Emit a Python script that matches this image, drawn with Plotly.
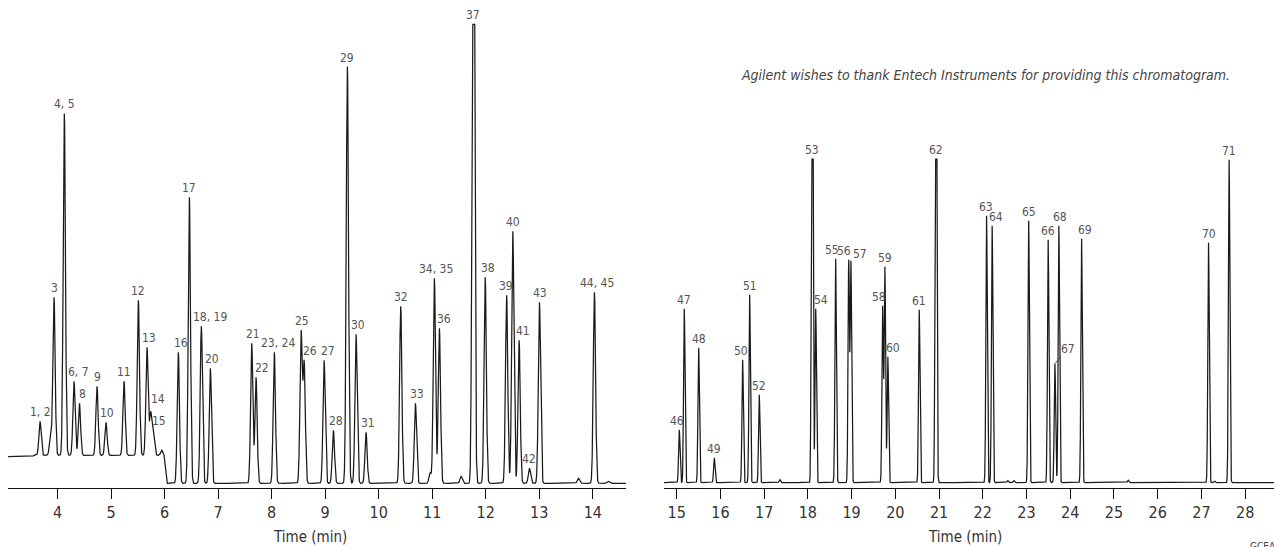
import numpy as np
import plotly.graph_objects as go

# ---------------- data ----------------
# Left panel (3-14.6 min): retention time (min), apex height above local baseline, label
left_times = [3.673, 3.87, 3.935, 4.127, 4.308, 4.41, 4.738, 4.906, 5.243, 5.51, 5.672, 5.74, 5.79, 5.947,
              6.257, 6.463, 6.687, 6.855, 7.628, 7.709, 8.05, 8.55, 8.608, 8.98, 9.154, 9.415, 9.577, 9.764,
              10.412, 10.686, 10.96, 11.04, 11.134, 11.54, 11.77, 11.99, 12.39, 12.505, 12.623, 12.816,
              13.003, 13.73, 14.03, 14.29]
left_heights = [34, 22, 158, 342, 74, 52, 69, 33, 74, 155, 108, 44, 25, 5,
                131, 286, 157, 115, 140, 106, 131, 153, 123, 123, 53, 417, 149, 51,
                177, 80, 11, 205, 155, 7, 950, 206, 188, 252, 143, 15,
                181, 5, 191, 2]
left_labels = ["1, 2", "", "3", "4, 5", "6, 7", "8", "9", "10", "11", "12", "13", "14", "15", "",
               "16", "17", "18, 19", "20", "21", "22", "23, 24", "25", "26", "27", "28", "29", "30", "31",
               "32", "33", "", "34, 35", "36", "", "37", "38", "39", "40", "41", "42",
               "43", "", "44, 45", ""]
# raised baseline of the early part of the run
left_base_t = [3.0, 3.52, 3.57, 5.99, 6.04, 14.7]
left_base_v = [26.6, 26.6, 28.0, 28.0, 0.0, 0.0]
left_clip = 459

# Right panel (15-28.6 min)
right_times = [15.06, 15.174, 15.503, 15.86, 16.509, 16.669, 16.889, 17.36, 18.10, 18.18, 18.635,
               18.935, 18.985, 19.71, 19.762, 19.83, 20.547, 20.93, 22.087, 22.215, 22.57, 22.71,
               23.05, 23.496, 23.65, 23.74, 24.26, 25.325, 27.163, 27.3, 27.634]
right_heights = [53, 174, 135, 25, 123, 188, 88, 3, 950, 174, 224,
                 223, 222, 177, 216, 126, 173, 950, 267, 257, 2, 2,
                 262, 243, 119, 257, 244, 2.5, 240, 1.5, 323]
right_labels = ["46", "47", "48", "49", "50", "51", "52", "", "53", "54", "55",
                "56", "57", "58", "59", "60", "61", "62", "63", "64", "", "",
                "65", "66", "67", "68", "69", "", "70", "", "71"]
right_clip = 323.7

left_ticks = list(range(4, 15))
right_ticks = list(range(15, 29))

# ---------------- build traces ----------------
def chromatogram(times, heights, sigma, t0, t1, base_t=None, base_v=None, clip=None):
    times = np.asarray(times, float)
    heights = np.asarray(heights, float)
    M = np.exp(-((times[:, None] - times[None, :]) ** 2) / (2 * sigma ** 2))
    amps = np.linalg.solve(M, heights)
    amps = np.maximum(amps, 0.3 * heights)
    x = np.arange(t0, t1, 0.0015)
    y = np.zeros_like(x)
    for t, a in zip(times, amps):
        y += a * np.exp(-((x - t) ** 2) / (2 * sigma ** 2))
    if base_t is not None:
        y += np.interp(x, base_t, base_v)
    if clip is not None:
        y = np.minimum(y, clip)
    return x, y

lx, ly = chromatogram(left_times, left_heights, 0.021, 3.075, 14.62, left_base_t, left_base_v, left_clip)
rx, ry = chromatogram(right_times, right_heights, 0.016, 14.71, 28.66, None, None, right_clip)

fig = go.Figure()
line = dict(color="#1a1a1a", width=1.25)
fig.add_trace(go.Scatter(x=lx, y=ly, mode="lines", line=line, xaxis="x", yaxis="y",
                         hoverinfo="skip", showlegend=False))
fig.add_trace(go.Scatter(x=rx, y=ry, mode="lines", line=line, xaxis="x2", yaxis="y2",
                         hoverinfo="skip", showlegend=False))

# label horizontal nudges (pixels) to match the reference placement
label_dx = {"6, 7": 4, "8": 3, "10": 1, "13": 2, "14": 7, "15": 6, "16": 3, "18, 19": 9, "20": 2,
            "21": 1, "22": 6, "23, 24": 4, "25": 1, "26": 6, "27": 4, "28": 3, "30": 2, "31": 2,
            "33": 2, "34, 35": 2, "36": 5, "38": 3, "39": -1, "41": 4, "43": 1, "44, 45": 3,
            "46": -2, "50": -2, "54": 5, "55": -4, "56": -5, "57": 9, "58": -4, "60": 5,
            "63": -1, "64": 4, "68": 1, "69": 3}
label_dy = {"14": 3, "57": -2}

cond = "Liberation Sans Narrow, DejaVu Sans Condensed, Arial Narrow, sans-serif"
lab_font = dict(family=cond, size=12, color="#555555")
annotations = []
for times, labels, xs, ys, xr, yr in [(left_times, left_labels, lx, ly, "x", "y"),
                                     (right_times, right_labels, rx, ry, "x2", "y2")]:
    for t, lab in zip(times, labels):
        if not lab:
            continue
        yv = float(np.interp(t, xs, ys))
        if lab == "67":
            annotations.append(dict(x=t, y=yv, xref=xr, yref=yr, text=lab, showarrow=True,
                                    arrowhead=0, arrowwidth=0.9, arrowcolor="#333333",
                                    ax=13, ay=-15, standoff=0, font=lab_font))
            continue
        annotations.append(dict(x=t, y=yv, xref=xr, yref=yr, text=lab, showarrow=False,
                                xanchor="center", yanchor="bottom",
                                xshift=label_dx.get(lab, 0), yshift=label_dy.get(lab, 0),
                                font=lab_font))

W, H = 1274, 547
annotations += [
    dict(x=310 / W, y=1 - 537 / H, xref="paper", yref="paper", text="Time (min)", showarrow=False,
         xanchor="center", yanchor="middle", font=dict(family=cond, size=15, color="#333333")),
    dict(x=965 / W, y=1 - 537 / H, xref="paper", yref="paper", text="Time (min)", showarrow=False,
         xanchor="center", yanchor="middle", font=dict(family=cond, size=15, color="#333333")),
    dict(x=1232 / W, y=1 - 75 / H, xref="paper", yref="paper",
         text="<i>Agilent wishes to thank Entech Instruments for providing this chromatogram.</i>",
         showarrow=False, xanchor="right", yanchor="middle",
         font=dict(family=cond, size=14, color="#444444")),
    dict(x=1248 / W, y=1 - 539 / H, xref="paper", yref="paper", text="GCEA", showarrow=False,
         xanchor="left", yanchor="top", font=dict(family=cond, size=10, color="#444444")),
]

ydom = [1 - 487.5 / H, 1 - 20 / H]
axis_common = dict(showline=True, linecolor="#111111", linewidth=1.3, ticks="outside", ticklen=10,
                   tickwidth=1.3, tickcolor="#111111", showgrid=False, zeroline=False,
                   tickfont=dict(family=cond, size=16, color="#333333"), automargin=False)
fig.update_layout(
    width=W, height=H, margin=dict(l=0, r=0, t=0, b=0),
    paper_bgcolor="white", plot_bgcolor="white",
    xaxis=dict(domain=[8 / W, 626 / W], range=[3.075, 14.62], tickvals=left_ticks,
               anchor="y", **axis_common),
    xaxis2=dict(domain=[664 / W, 1.0], range=[14.71, 28.66], tickvals=right_ticks,
                anchor="y2", **axis_common),
    yaxis=dict(domain=ydom, range=[-4.2, 463.3], visible=False, anchor="x"),
    yaxis2=dict(domain=ydom, range=[-4.8, 462.7], visible=False, anchor="x2"),
    annotations=annotations,
)

fig.write_html("out.html", config={"displayModeBar": False},
               post_script="document.body.style.margin='0';document.body.style.overflow='hidden';")
